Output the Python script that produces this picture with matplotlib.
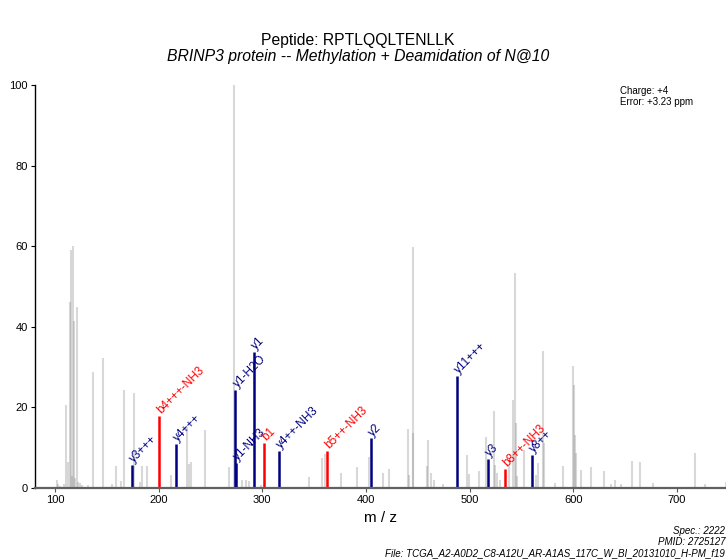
import numpy as np
import matplotlib
matplotlib.use('Agg')
import matplotlib.pyplot as plt

plt.rcParams['font.family'] = ['Liberation Sans', 'DejaVu Sans']

# unassigned peaks (m/z, relative intensity)
bg_mz = [101.6, 103.0, 105.0, 108.5, 110.9, 112.8, 114.8, 115.4, 116.0, 117.4, 118.3,
         119.5, 121.2, 122.5, 124.0, 126.0, 132.0, 137.0, 146.3, 154.7, 158.9,
         163.6, 166.9, 176.0, 182.0, 184.0, 188.8, 212.0, 227.7, 229.1, 231.0,
         244.8, 267.7, 272.8, 280.8, 284.4, 287.3, 298.8, 345.5, 358.0, 360.3,
         375.8, 391.2, 402.8, 416.9, 422.7, 441.0, 442.0, 445.1, 445.9, 458.8,
         459.8, 462.6, 465.8, 474.2, 498.0, 499.6, 509.0, 516.0, 524.0, 524.7,
         526.9, 529.8, 537.7, 541.8, 543.8, 544.7, 546.0, 552.9, 564.6, 566.5,
         571.3, 572.2, 582.6, 590.6, 600.3, 601.0, 601.6, 602.6, 607.7, 617.4,
         630.2, 636.4, 640.8, 646.6, 656.7, 664.7, 676.9, 717.8, 727.4, 747.7]
bg_int = [2.0, 1.0, 0.6, 1.0, 20.6, 6.5, 46.2, 59.0, 3.0, 60.1, 41.4,
          2.5, 44.8, 1.5, 1.2, 0.8, 0.8, 28.9, 32.2, 1.0, 5.5,
          1.8, 24.2, 23.5, 1.5, 5.5, 5.5, 3.2, 15.1, 6.0, 6.5,
          14.4, 5.3, 100.0, 2.0, 2.0, 1.8, 0.8, 2.8, 7.4, 8.4,
          3.6, 5.3, 7.8, 3.8, 4.6, 14.6, 3.2, 59.7, 13.6, 5.5,
          11.9, 3.6, 2.0, 1.0, 8.2, 3.5, 4.1, 12.7, 19.2, 5.7,
          3.8, 2.0, 5.7, 21.8, 53.3, 16.2, 3.0, 9.4, 3.2, 6.1,
          34.1, 11.1, 1.3, 5.5, 30.3, 25.6, 13.2, 8.6, 4.5, 5.1,
          4.1, 0.9, 2.0, 1.0, 6.8, 6.5, 1.3, 8.6, 1.0, 1.5]

# assigned fragment ions
ion_labels = ['y3+++', 'b4+++-NH3', 'y4+++', 'y1-H2O', 'y1-NH3', 'y1', 'b1',
              'y4++-NH3', 'b5++-NH3', 'y2', 'y11+++', 'y3', 'b8++-NH3', 'y8++']
ion_mz = [174.3, 200.4, 216.8, 274.0, 274.6, 291.8, 302.0,
          316.2, 362.8, 405.0, 488.0, 517.9, 534.1, 560.1]
ion_int = [5.7, 17.8, 10.9, 24.3, 6.3, 33.7, 11.2,
           9.3, 9.2, 12.3, 27.8, 7.2, 4.6, 8.1]
ion_type = ['y', 'b', 'y', 'y', 'y', 'y', 'b', 'y', 'b', 'y', 'y', 'y', 'b', 'y']

cols = {'y': '#000080', 'b': '#ff0000'}

W, H = 726, 560
fig = plt.figure(figsize=(W / 100., H / 100.), dpi=100)
ax = fig.add_axes([35. / W, (H - 488.) / H, (W - 35.) / W, (488. - 85.) / H])

ax.vlines(bg_mz, 0, bg_int, color='#808080', alpha=0.3, lw=1.5)
for l, m, i, t in zip(ion_labels, ion_mz, ion_int, ion_type):
    ax.vlines(m, 0, i, color=cols[t], lw=1.8)
    ax.annotate(l, (m, i), xytext=(0, 3), textcoords='offset points',
                rotation=45, rotation_mode='anchor', ha='left', va='center',
                fontsize=8.5, color=cols[t])

ax.set_xlim(80.7, 747.5)
ax.set_ylim(0, 100)
ax.set_xticks([100, 200, 300, 400, 500, 600, 700])
ax.set_yticks([0, 20, 40, 60, 80, 100])
ax.tick_params(labelsize=8, length=3, width=0.8, pad=2)
ax.tick_params(axis='x', colors='#555555', labelcolor='black')
for s in ['top', 'right']:
    ax.spines[s].set_visible(False)
ax.spines['left'].set_linewidth(1.0)
ax.spines['bottom'].set_color('#606060')
ax.spines['bottom'].set_linewidth(1.6)
ax.set_xlabel('m / z', fontsize=11, labelpad=4)

fig.text(358. / W, 1 - 40. / H, 'Peptide: RPTLQQLTENLLK', ha='center', va='center', fontsize=11.3)
fig.text(358. / W, 1 - 56. / H, 'BRINP3 protein -- Methylation + Deamidation of N@10',
         ha='center', va='center', fontsize=11.3, style='italic')

fig.text(620. / W, 1 - 91. / H, 'Charge: +4', ha='left', va='center', fontsize=7)
fig.text(620. / W, 1 - 102. / H, 'Error: +3.23 ppm', ha='left', va='center', fontsize=7)

# footer lines, as far as they show at the right edge
fig.text(725. / W, 1 - 531. / H, 'Spec.: 2222', ha='right', va='center', fontsize=7, style='italic')
fig.text(725. / W, 1 - 542. / H, 'PMID: 2725127', ha='right', va='center', fontsize=7, style='italic')
fig.text(725. / W, 1 - 553. / H, 'File: TCGA_A2-A0D2_C8-A12U_AR-A1AS_117C_W_BI_20131010_H-PM_f19',
         ha='right', va='center', fontsize=7, style='italic')

plt.savefig('out.png', dpi=100)
